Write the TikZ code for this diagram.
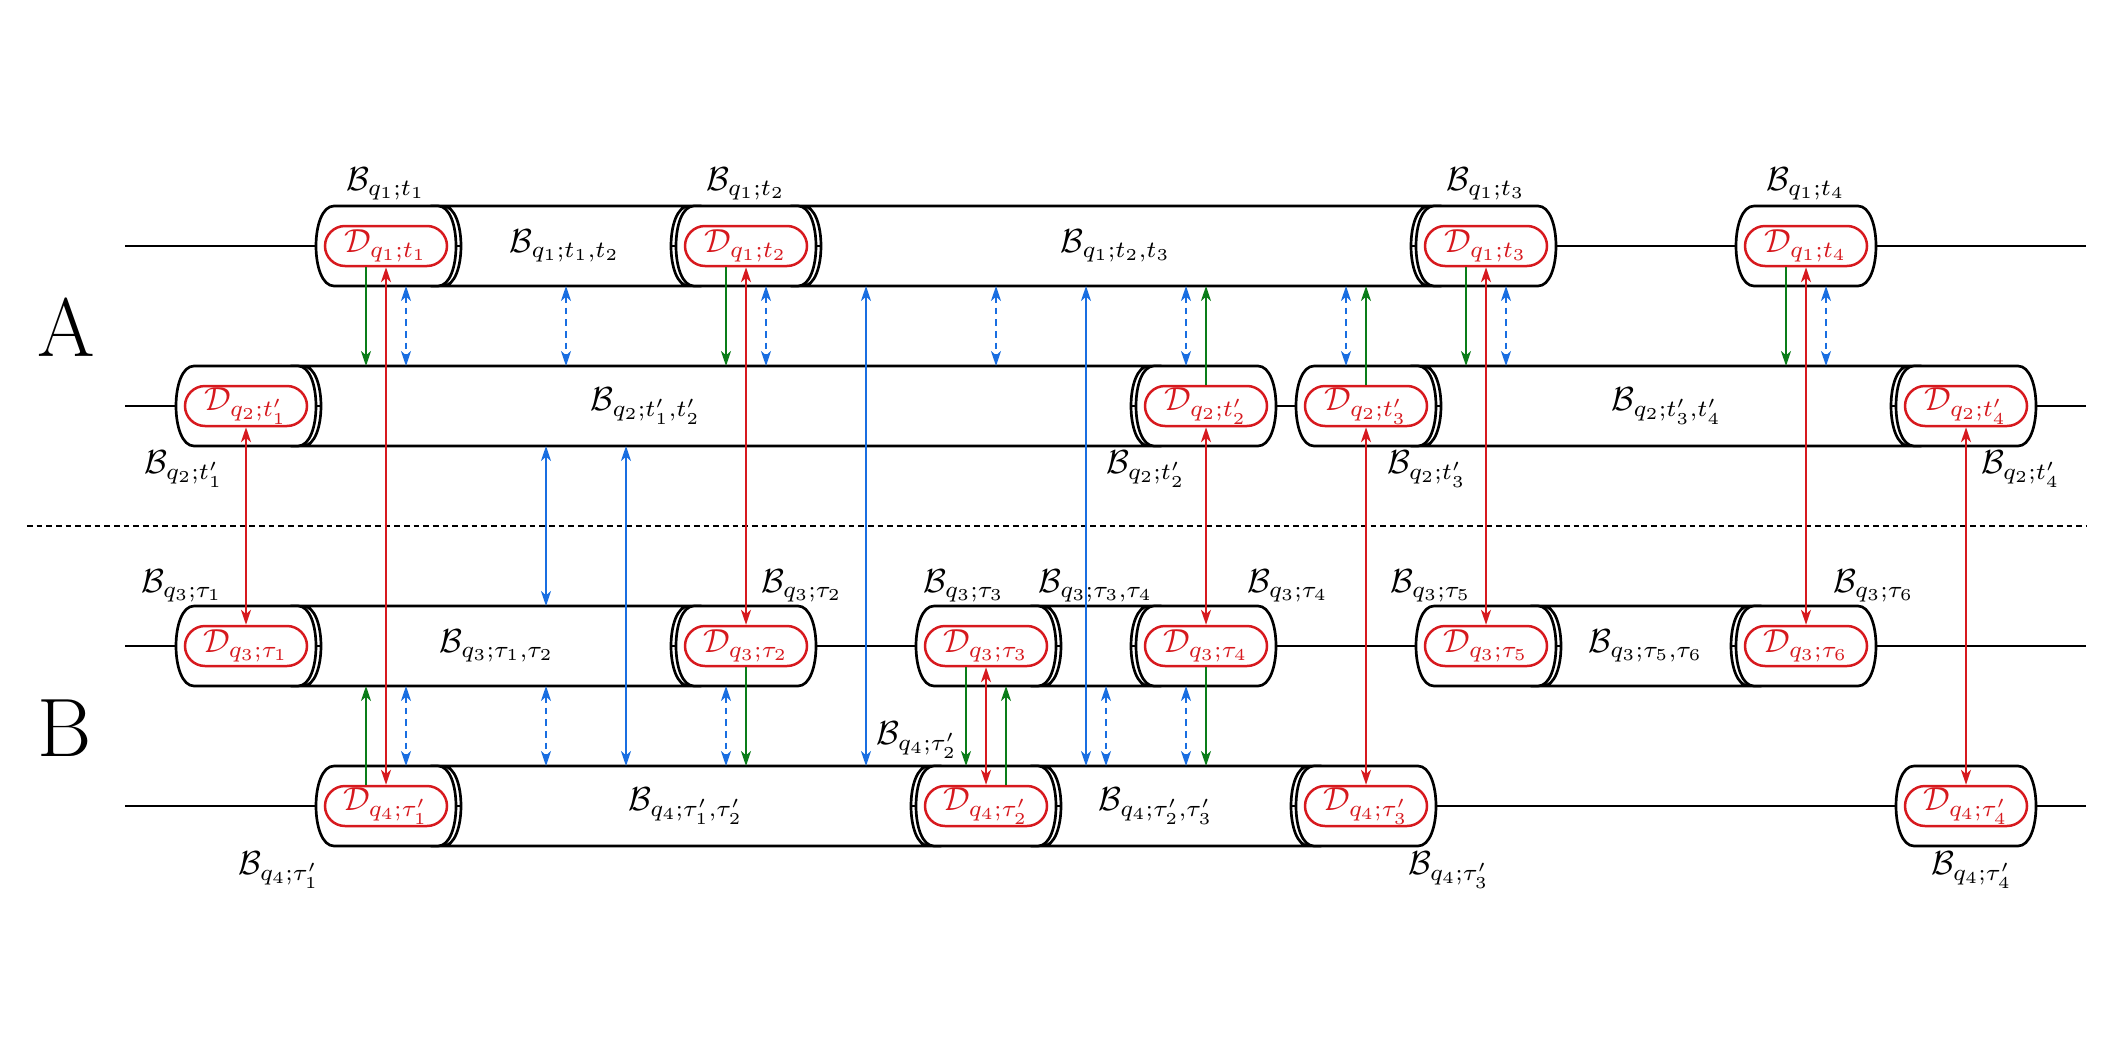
\documentclass[tikz,border=0pt]{standalone}
\usetikzlibrary{arrows.meta,calc}
\definecolor{dred}{RGB}{215,25,30}
\definecolor{dgreen}{RGB}{10,125,25}
\definecolor{dblue}{RGB}{25,110,225}
\newcommand{\mybarrel}[2]{%
  \draw[bline,fill=white] ({#1-52},{#2-40}) -- ({#1+52},{#2-40})
    .. controls ({#1+64},{#2-40}) and ({#1+70},{#2-20}) .. ({#1+70},{#2})
    .. controls ({#1+70},{#2+20}) and ({#1+64},{#2+40}) .. ({#1+52},{#2+40})
    -- ({#1-52},{#2+40})
    .. controls ({#1-64},{#2+40}) and ({#1-70},{#2+20}) .. ({#1-70},{#2})
    .. controls ({#1-70},{#2-20}) and ({#1-64},{#2-40}) .. ({#1-52},{#2-40}) -- cycle;}
\newcommand{\myseg}[3]{%
  \draw[bline,fill=white] ({#1+57},{#3-40}) -- ({#2-57},{#3-40})
    .. controls ({#2-69},{#3-40}) and ({#2-75},{#3-20}) .. ({#2-75},{#3})
    .. controls ({#2-75},{#3+20}) and ({#2-69},{#3+40}) .. ({#2-57},{#3+40})
    -- ({#1+57},{#3+40})
    .. controls ({#1+69},{#3+40}) and ({#1+75},{#3+20}) .. ({#1+75},{#3})
    .. controls ({#1+75},{#3-20}) and ({#1+69},{#3-40}) .. ({#1+57},{#3-40}) -- cycle;}
\begin{document}
\begin{tikzpicture}[x=0.3pt,y=-0.3pt,
  >={Stealth[length=4.5pt,width=3pt,inset=1.3pt]},
  bline/.style={line width=0.8pt,draw=black},
  dbox/.style={draw=dred,text=dred,line width=0.75pt,rounded corners=6pt,
    minimum width=36.6pt,minimum height=12pt,inner sep=0pt},
  lab/.style={inner sep=0pt},
  big/.style={inner sep=0pt,font=\Huge},
  ga/.style={draw=dgreen,line width=0.6pt,->},
  ra/.style={draw=dred,line width=0.6pt,<->},
  ba/.style={draw=dblue,line width=0.6pt,<->},
  bd/.style={ba,dash pattern=on 2pt off 1.5pt},
  sep/.style={line width=0.65pt,dash pattern=on 1.7pt off 1.2pt}]
\useasboundingbox (0,0) rectangle (2112,1056);

% row reference coordinates
\coordinate (r1b) at (0,286);
\coordinate (r2t) at (0,366);
\coordinate (r2b) at (0,446);
\coordinate (r3t) at (0,606);
\coordinate (r3b) at (0,686);
\coordinate (r4t) at (0,766);

% wires
\foreach \yy in {246,406,646,806} \draw[bline] (125,\yy) -- (2086,\yy);

% separator
\coordinate (sepL) at (27,526);
\coordinate (sepR) at (2087,526);
\draw[sep] (sepL) -- (sepR);

% segments
\myseg{386}{746}{246}
\myseg{746}{1486}{246}
\myseg{246}{1206}{406}
\myseg{1366}{1966}{406}
\myseg{246}{746}{646}
\myseg{986}{1206}{646}
\myseg{1486}{1806}{646}
\myseg{386}{986}{806}
\myseg{986}{1366}{806}

% barrels
\mybarrel{386}{246}\mybarrel{746}{246}\mybarrel{1486}{246}\mybarrel{1806}{246}
\mybarrel{246}{406}\mybarrel{1206}{406}\mybarrel{1366}{406}\mybarrel{1966}{406}
\mybarrel{246}{646}\mybarrel{746}{646}\mybarrel{986}{646}\mybarrel{1206}{646}
\mybarrel{1486}{646}\mybarrel{1806}{646}
\mybarrel{386}{806}\mybarrel{986}{806}\mybarrel{1366}{806}\mybarrel{1966}{806}

% D boxes
\node[dbox] (Da1) at (386,246) {$\mathcal{D}_{q_1;t_1}$};
\node[dbox] (Da2) at (746,246) {$\mathcal{D}_{q_1;t_2}$};
\node[dbox] (Da3) at (1486,246) {$\mathcal{D}_{q_1;t_3}$};
\node[dbox] (Da4) at (1806,246) {$\mathcal{D}_{q_1;t_4}$};
\node[dbox] (Db1) at (246,406) {$\mathcal{D}_{q_2;t'_1}$};
\node[dbox] (Db2) at (1206,406) {$\mathcal{D}_{q_2;t'_2}$};
\node[dbox] (Db3) at (1366,406) {$\mathcal{D}_{q_2;t'_3}$};
\node[dbox] (Db4) at (1966,406) {$\mathcal{D}_{q_2;t'_4}$};
\node[dbox] (Dc1) at (246,646) {$\mathcal{D}_{q_3;\tau_1}$};
\node[dbox] (Dc2) at (746,646) {$\mathcal{D}_{q_3;\tau_2}$};
\node[dbox] (Dc3) at (986,646) {$\mathcal{D}_{q_3;\tau_3}$};
\node[dbox] (Dc4) at (1206,646) {$\mathcal{D}_{q_3;\tau_4}$};
\node[dbox] (Dc5) at (1486,646) {$\mathcal{D}_{q_3;\tau_5}$};
\node[dbox] (Dc6) at (1806,646) {$\mathcal{D}_{q_3;\tau_6}$};
\node[dbox] (Dd1) at (386,806) {$\mathcal{D}_{q_4;\tau'_1}$};
\node[dbox] (Dd2) at (986,806) {$\mathcal{D}_{q_4;\tau'_2}$};
\node[dbox] (Dd3) at (1366,806) {$\mathcal{D}_{q_4;\tau'_3}$};
\node[dbox] (Dd4) at (1966,806) {$\mathcal{D}_{q_4;\tau'_4}$};

% big letters
\node[big] (bigA) at (66,327) {A};
\node[big] (bigB) at (65,728) {B};

% labels row 1
\node[lab] (La1) at (386,184) {$\mathcal{B}_{q_1;t_1}$};
\node[lab] (La2) at (746,184) {$\mathcal{B}_{q_1;t_2}$};
\node[lab] (La3) at (1486,184) {$\mathcal{B}_{q_1;t_3}$};
\node[lab] (La4) at (1806,184) {$\mathcal{B}_{q_1;t_4}$};
\node[lab] (Sa1) at (565,246) {$\mathcal{B}_{q_1;t_1,t_2}$};
\node[lab] (Sa2) at (1116,246) {$\mathcal{B}_{q_1;t_2,t_3}$};
% labels row 2
\node[lab] (Lb1) at (184,469) {$\mathcal{B}_{q_2;t'_1}$};
\node[lab] (Lb2) at (1146,469) {$\mathcal{B}_{q_2;t'_2}$};
\node[lab] (Lb3) at (1427,469) {$\mathcal{B}_{q_2;t'_3}$};
\node[lab] (Lb4) at (2021,469) {$\mathcal{B}_{q_2;t'_4}$};
\node[lab] (Sb1) at (646,406) {$\mathcal{B}_{q_2;t'_1,t'_2}$};
\node[lab] (Sb2) at (1667,406) {$\mathcal{B}_{q_2;t'_3,t'_4}$};
% labels row 3
\node[lab] (Lc1) at (182,586) {$\mathcal{B}_{q_3;\tau_1}$};
\node[lab] (Lc2) at (802,586) {$\mathcal{B}_{q_3;\tau_2}$};
\node[lab] (Lc3) at (964,586) {$\mathcal{B}_{q_3;\tau_3}$};
\node[lab] (Sc2) at (1096,586) {$\mathcal{B}_{q_3;\tau_3,\tau_4}$};
\node[lab] (Lc4) at (1288,586) {$\mathcal{B}_{q_3;\tau_4}$};
\node[lab] (Lc5) at (1431,586) {$\mathcal{B}_{q_3;\tau_5}$};
\node[lab] (Lc6) at (1874,586) {$\mathcal{B}_{q_3;\tau_6}$};
\node[lab] (Sc1) at (497,646) {$\mathcal{B}_{q_3;\tau_1,\tau_2}$};
\node[lab] (Sc3) at (1646,646) {$\mathcal{B}_{q_3;\tau_5,\tau_6}$};
% labels row 4
\node[lab] (Ld1) at (279,870) {$\mathcal{B}_{q_4;\tau'_1}$};
\node[lab] (Ld2) at (917,740) {$\mathcal{B}_{q_4;\tau'_2}$};
\node[lab] (Ld3) at (1449,870) {$\mathcal{B}_{q_4;\tau'_3}$};
\node[lab] (Ld4) at (1972,870) {$\mathcal{B}_{q_4;\tau'_4}$};
\node[lab] (Sd1) at (686,806) {$\mathcal{B}_{q_4;\tau'_1,\tau'_2}$};
\node[lab] (Sd2) at (1156,806) {$\mathcal{B}_{q_4;\tau'_2,\tau'_3}$};

% green arrows
\draw[ga] ($(Da1.south)+(-20,0)$) -- ($(Da1.south |- r2t)+(-20,0)$);
\draw[ga] ($(Da2.south)+(-20,0)$) -- ($(Da2.south |- r2t)+(-20,0)$);
\draw[ga] ($(Da3.south)+(-20,0)$) -- ($(Da3.south |- r2t)+(-20,0)$);
\draw[ga] ($(Da4.south)+(-20,0)$) -- ($(Da4.south |- r2t)+(-20,0)$);
\draw[ga] (Db2.north) -- (Db2.north |- r1b);
\draw[ga] (Db3.north) -- (Db3.north |- r1b);
\draw[ga] ($(Dd1.north)+(-20,0)$) -- ($(Dd1.north |- r3b)+(-20,0)$);
\draw[ga] (Dc2.south) -- (Dc2.south |- r4t);
\draw[ga] ($(Dc3.south)+(-20,0)$) -- ($(Dc3.south |- r4t)+(-20,0)$);
\draw[ga] ($(Dd2.north)+(20,0)$) -- ($(Dd2.north |- r3b)+(20,0)$);
\draw[ga] (Dc4.south) -- (Dc4.south |- r4t);

% red arrows
\draw[ra] (Da1.south) -- (Dd1.north);
\draw[ra] (Da2.south) -- (Dc2.north);
\draw[ra] (Da3.south) -- (Dc5.north);
\draw[ra] (Da4.south) -- (Dc6.north);
\draw[ra] (Db1.south) -- (Dc1.north);
\draw[ra] (Db2.south) -- (Dc4.north);
\draw[ra] (Db3.south) -- (Dd3.north);
\draw[ra] (Db4.south) -- (Dd4.north);
\draw[ra] (Dc3.south) -- (Dd2.north);

% blue dashed arrows between rows 1 and 2
\foreach \xx in {406,566,766,996,1186,1346,1506,1826}
  \draw[bd] ($(r1b)+(\xx,0)$) -- ($(r2t)+(\xx,0)$);
% blue dashed arrows between rows 3 and 4
\foreach \xx in {406,546,726,1106,1186}
  \draw[bd] ($(r3b)+(\xx,0)$) -- ($(r4t)+(\xx,0)$);
% blue solid arrows
\draw[ba] ($(r1b)+(866,0)$) -- ($(r4t)+(866,0)$);
\draw[ba] ($(r1b)+(1086,0)$) -- ($(r4t)+(1086,0)$);
\draw[ba] ($(r2b)+(546,0)$) -- ($(r3t)+(546,0)$);
\draw[ba] ($(r2b)+(626,0)$) -- ($(r4t)+(626,0)$);
\end{tikzpicture}
\end{document}
